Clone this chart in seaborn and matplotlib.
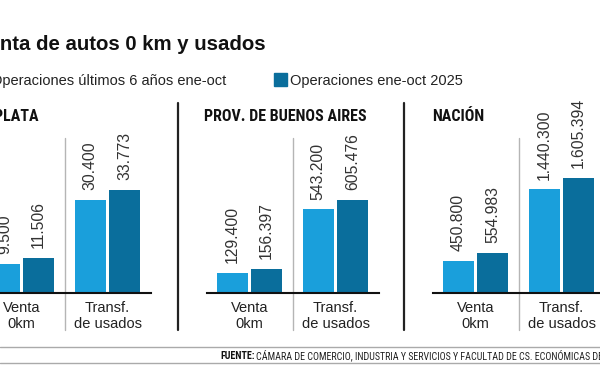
import pandas as pd
import matplotlib.pyplot as plt
import seaborn as sns
from matplotlib import font_manager
from matplotlib.lines import Line2D
from matplotlib.patches import Rectangle

# Data
categorias = ["Venta\n0km", "Transf.\nde usados"]
series = ["Operaciones últimos 6 años ene-oct", "Operaciones ene-oct 2025"]
regiones = ["LA PLATA", "PROV. DE BUENOS AIRES", "NACIÓN"]
la_plata_6 = [9500, 30400]
la_plata_2025 = [11506, 33773]
pba_6 = [129400, 543200]
pba_2025 = [156397, 605476]
nacion_6 = [450800, 1440300]
nacion_2025 = [554983, 1605394]

titulo = "Venta de autos 0 km y usados"
fuente_tit = "FUENTE:"
fuente_txt = "CÁMARA DE COMERCIO, INDUSTRIA Y SERVICIOS Y FACULTAD DE CS. ECONÓMICAS DE LA UNLP"

CLARO = "#1a9fdb"
OSCURO = "#0a6e9c"

# Fonts
sns.set_theme(style="white")
nombres = {f.name for f in font_manager.fontManager.ttflist}
COND = next((n for n in ["Roboto Condensed", "Liberation Sans Narrow", "Open Sans Condensed"]
             if n in nombres), "Liberation Sans")
plt.rcParams["font.family"] = ["Liberation Sans", "DejaVu Sans"]

W, H = 600, 365


def fx(px):
    return px / W


def fy(py):
    return 1 - py / H


fig = plt.figure(figsize=(6, 3.65), dpi=100)

# Title and legend
fig.text(fx(266), fy(50), titulo, ha="right", va="baseline", fontsize=14.7,
         fontweight="bold", color="#111111")
fig.text(fx(226), fy(85.5), series[0], ha="right", va="baseline", fontsize=10.5, color="#222222")
fig.patches.append(Rectangle((fx(274), fy(86)), fx(13), 13 / H, color=OSCURO,
                             transform=fig.transFigure, figure=fig))
fig.text(fx(290), fy(85.5), series[1], ha="left", va="baseline", fontsize=10.5, color="#222222")

datos = [(la_plata_6, la_plata_2025, 62000),
         (pba_6, pba_2025, 1233000),
         (nacion_6, nacion_2025, 2642000)]
lefts = [-21.5, 206.5, 432.5]

for i, (v6, v25, ymax) in enumerate(datos):
    df = pd.DataFrame({
        "categoria": categorias * 2,
        "serie": [series[0]] * 2 + [series[1]] * 2,
        "valor": v6 + v25,
    })
    ax = fig.add_axes([fx(lefts[i]), fy(293), fx(172), 190 / H])
    sns.barplot(data=df, x="categoria", y="valor", hue="serie",
                palette=[CLARO, OSCURO], saturation=1, width=0.8, gap=0.1,
                linewidth=0, legend=False, ax=ax)
    ax.set_xlim(-0.5, 1.5)
    ax.set_ylim(0, ymax)
    ax.set_xlabel("")
    ax.set_ylabel("")
    ax.set_yticks([])
    ax.patch.set_alpha(0)
    for s in ["top", "left", "right"]:
        ax.spines[s].set_visible(False)
    ax.spines["bottom"].set_color("#111111")
    ax.spines["bottom"].set_linewidth(1.5)
    ax.tick_params(axis="x", length=0, pad=6, labelsize=10.5, labelcolor="#222222")
    for lab in ax.get_xticklabels():
        lab.set_linespacing(1.15)
    for cont in ax.containers:
        etiquetas = [f"{int(b.get_height()):,}".replace(",", ".") for b in cont]
        ax.bar_label(cont, labels=etiquetas, rotation=90, padding=7,
                     fontsize=11.3, color="#333333")
    # separador gris entre categorias
    ax.axvline(0.5, ymin=-0.195, ymax=0.816, color="#b5b5b5", lw=1, clip_on=False)

# encabezados de region
fig.text(fx(39), fy(121), regiones[0], ha="right", va="baseline",
         fontsize=11.5, fontweight="bold", family=COND, color="#111111")
fig.text(fx(204), fy(121), regiones[1], ha="left", va="baseline",
         fontsize=11.5, fontweight="bold", family=COND, color="#111111")
fig.text(fx(432), fy(121), regiones[2], ha="left", va="baseline",
         fontsize=11.5, fontweight="bold", family=COND, color="#111111")

# separadores negros entre regiones
for x in [178, 404]:
    fig.add_artist(Line2D([fx(x), fx(x)], [fy(103), fy(330)], color="#222222", lw=1.6))

# fuente
for y in [347, 363]:
    fig.add_artist(Line2D([0, 1], [fy(y), fy(y)], color="#aaaaaa", lw=1))
t1 = fig.text(fx(220), fy(359), fuente_tit, ha="left", va="baseline", fontsize=7.2,
              fontweight="bold", family=COND, color="#111111")
fig.canvas.draw()
bb = t1.get_window_extent()
fig.text((bb.x1 + 2) / W, fy(359), fuente_txt, ha="left", va="baseline", fontsize=7.2,
         family=COND, color="#222222")

plt.savefig("out.png", dpi=100)
plt.close()
